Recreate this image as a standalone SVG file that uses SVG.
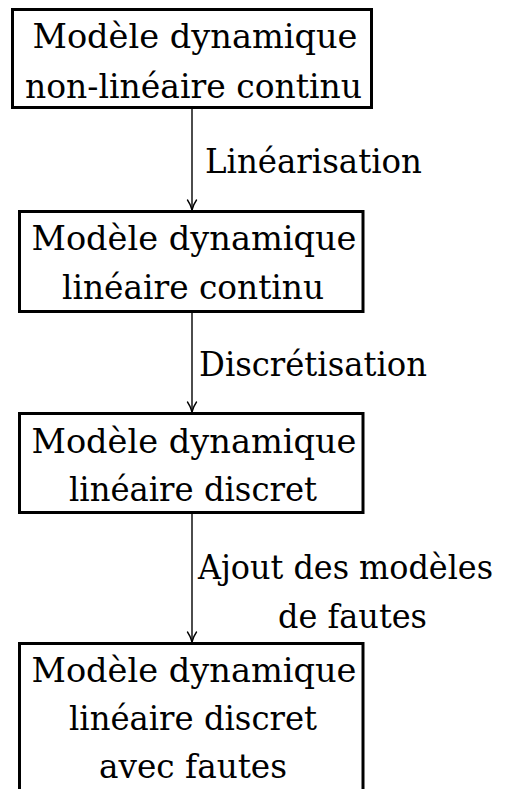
<svg xmlns="http://www.w3.org/2000/svg" width="509" height="789" viewBox="0 0 509 789">
<style>
.box{fill:#fff;stroke:#000;stroke-width:3}
.t{font-family:'DejaVu Serif','Liberation Serif',serif;font-size:34px;fill:#000}
.c{text-anchor:middle}
.conn{stroke:#000;stroke-width:1.4;fill:none}
</style>
<defs>
<marker id="arr" markerUnits="userSpaceOnUse" markerWidth="14" markerHeight="14" viewBox="-11 -7 13 14" refX="0" refY="0" orient="auto">
<path d="M-10,-4.5 C-6.5,-2 -2.5,-0.6 0,0 C-2.5,0.6 -6.5,2 -10,4.5" fill="none" stroke="#000" stroke-width="1.4" stroke-linecap="round"/>
</marker>
</defs>
<rect width="509" height="789" fill="#fff"/>
<g id="connectors">
<line class="conn" x1="192" y1="108.5" x2="192" y2="210" marker-end="url(#arr)"/>
<line class="conn" x1="192" y1="313" x2="192" y2="412" marker-end="url(#arr)"/>
<line class="conn" x1="192" y1="514" x2="192" y2="642" marker-end="url(#arr)"/>
<text class="t" x="205" y="173" textLength="217" lengthAdjust="spacingAndGlyphs">Linéarisation</text>
<text class="t" x="199" y="376" textLength="228" lengthAdjust="spacingAndGlyphs">Discrétisation</text>
<text class="t" x="198" y="579" font-size="32" textLength="295" lengthAdjust="spacingAndGlyphs">Ajout des modèles</text>
<text class="t" x="278" y="628" textLength="149" lengthAdjust="spacingAndGlyphs">de fautes</text>
</g>
<g id="n1">
<rect class="box" x="12.5" y="9.5" width="359" height="98"/>
<text class="t c" x="195" y="48" textLength="325" lengthAdjust="spacingAndGlyphs">Modèle dynamique</text>
<text class="t c" x="193.5" y="98" textLength="337" lengthAdjust="spacingAndGlyphs">non-linéaire continu</text>
</g>
<g id="n2">
<rect class="box" x="19.5" y="211.5" width="343.5" height="100"/>
<text class="t c" x="194" y="250" textLength="325" lengthAdjust="spacingAndGlyphs">Modèle dynamique</text>
<text class="t c" x="193" y="299" textLength="262" lengthAdjust="spacingAndGlyphs">linéaire continu</text>
</g>
<g id="n3">
<rect class="box" x="19.5" y="413.5" width="343.5" height="99"/>
<text class="t c" x="194" y="453" textLength="325" lengthAdjust="spacingAndGlyphs">Modèle dynamique</text>
<text class="t c" x="193" y="501" textLength="248" lengthAdjust="spacingAndGlyphs">linéaire discret</text>
</g>
<g id="n4">
<rect class="box" x="19.5" y="643.5" width="343.5" height="160"/>
<text class="t c" x="194" y="682" textLength="325" lengthAdjust="spacingAndGlyphs">Modèle dynamique</text>
<text class="t c" x="193" y="730" textLength="248" lengthAdjust="spacingAndGlyphs">linéaire discret</text>
<text class="t c" x="193" y="778" textLength="188" lengthAdjust="spacingAndGlyphs">avec fautes</text>
</g>
</svg>
